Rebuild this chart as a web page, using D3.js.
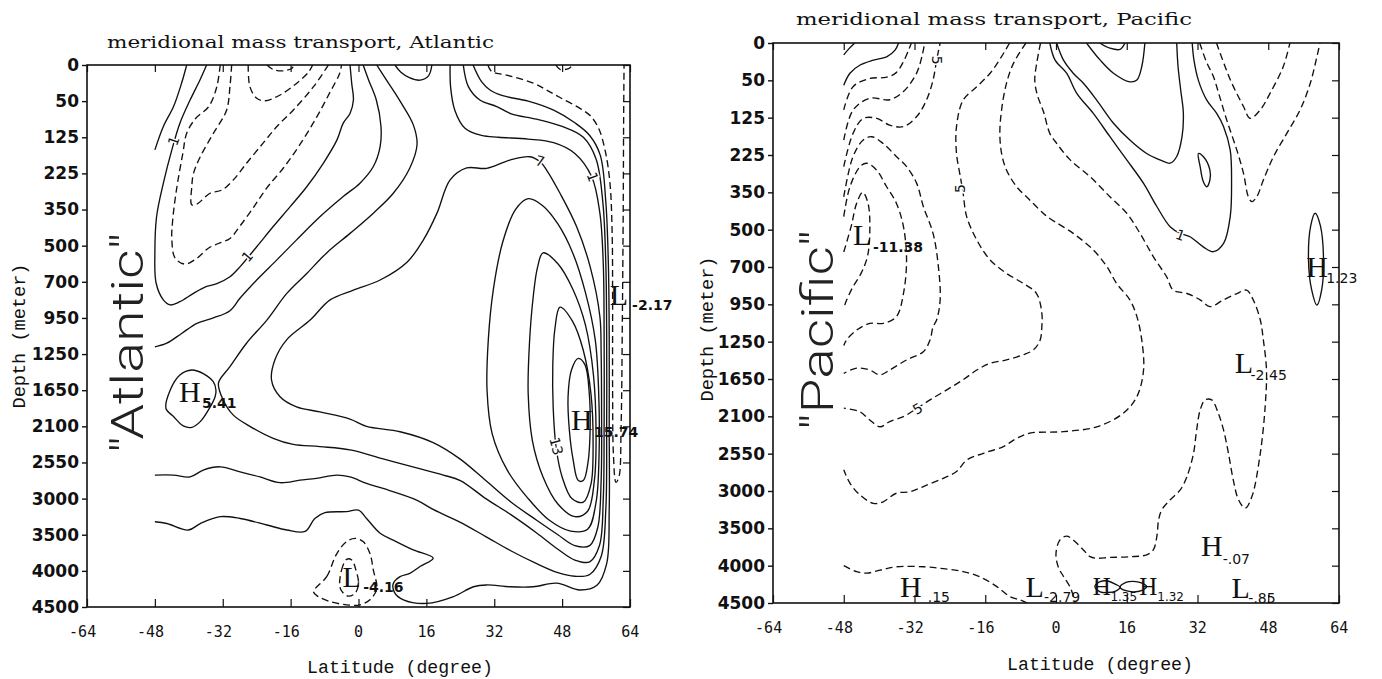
<!DOCTYPE html>
<html>
<head>
<meta charset="utf-8">
<script src="https://cdn.jsdelivr.net/npm/d3@7"></script>
<style>
  body { margin: 0; background: #fff; }
  svg { display: block; }
</style>
</head>
<body>
<svg id="chart" width="1382" height="679"></svg>
<script>
// ---------------- axis data ----------------
const depthLabels = ["0","50","125","225","350","500","700","950","1250","1650","2100","2550","3000","3500","4000","4500"];
const latTicks = [-64,-48,-32,-16,0,16,32,48,64];

// ---------------- Atlantic contours: [latitude, depth-level index] ----------------
const atl_a = [[-48,2.35],[-46,1.7],[-43.6,1.15],[-41.7,0.5],[-40.5,0]];
const atl_b = [[-35.8,0],[-37.4,0.42],[-39.7,0.97],[-42.1,1.61],[-44,2.35],[-46,3.27],[-47.6,4.2],[-48,5.2],[-47.7,6.04],[-46,6.5],[-44.4,6.64],[-42.1,6.55],[-38.9,6.32],[-35.8,6.13],[-33.4,6.05],[-30.3,5.86],[-27.9,5.58],[-24,5.03],[-20.1,4.47],[-16.1,3.92],[-12.2,3.37],[-8.3,2.72],[-5.1,2.08],[-3.6,1.61],[-2,1.34],[-1.2,0.97],[-1.6,0.51],[-2,0]];
const atl_D1 = [[-32.6,0],[-33.4,0.6],[-35.3,1.15],[-38.4,1.48],[-40.5,1.89],[-41.4,2.44],[-42.8,3.37],[-43.8,4.29],[-44,4.84],[-43.2,5.35],[-40.9,5.51],[-38.1,5.35],[-35.4,5.07],[-33,4.94],[-30.3,4.8],[-27.9,4.45],[-24.8,3.95],[-21.6,3.4],[-17.7,2.85],[-13.8,2.2],[-9.9,1.45],[-6.7,0.75],[-4.5,0.25],[-4,0]];
const atl_D2 = [[-29.9,0],[-30.3,0.6],[-31.1,1.25],[-34.2,1.89],[-37.3,2.54],[-38.9,3.0],[-39.3,3.37],[-39.3,3.87],[-38.1,3.85],[-35,3.55],[-32.2,3.46],[-29.5,3.18],[-26.4,2.72],[-22.4,2.15],[-19.3,1.71],[-15.4,1.25],[-10.6,0.6],[-7.1,0]];
const atl_D3 = [[-26,0],[-25.6,0.6],[-24,0.92],[-22,0.99],[-18.5,0.83],[-14.6,0.51],[-11.8,0.2],[-10.8,0]];
const atl_d  = [[-21.6,0],[-20,0.13],[-17.5,0.16],[-15.6,0.08],[-15.3,0]];
const atl_e = [[-48,7.8],[-45.2,7.7],[-41.7,7.43],[-38.1,7.15],[-34.2,7.0],[-30.3,6.8],[-27.9,6.45],[-24,5.95],[-19.3,5.4],[-14.6,4.84],[-9.1,4.2],[-3.6,3.64],[0.35,3.27],[3.5,2.81],[5.1,2.26],[5.3,1.7],[4.2,0.97],[2.4,0.42],[1.1,0]];
const atl_f = [[4.3,0],[6.6,0.42],[9.8,1.0],[12.9,1.65],[13.8,2.2],[12.1,2.85],[8.2,3.55],[3.5,4.1],[-2,4.66],[-7.5,5.2],[-12.2,5.77],[-16.9,6.32],[-21.6,7.06],[-26.4,7.7],[-30.3,8.35],[-33,8.8],[-31.9,9.27],[-29.5,9.69],[-25.6,10.0],[-20.1,10.33],[-15.4,10.5],[-9.1,10.56],[-2,10.65],[5.8,10.9],[13.7,11.15],[20,11.35],[24,11.5],[30,12.0],[36,12.45],[42,12.95],[47,13.4],[51,13.7],[54.5,13.75],[56.8,13.3],[57.7,12.0],[57.9,10],[57.9,7.5],[57.7,5.5],[56.9,4.1],[55,3.1],[51,2.45],[46,2.15],[40,2.05],[33,2.0],[29,1.95],[25.1,1.75],[22.7,1.25],[21.7,0.6],[21.6,0]];
const atl_3 = [[-48,11.35],[-43.6,11.35],[-39.7,11.4],[-36.6,11.21],[-32.6,11.12],[-27.9,11.26],[-23.2,11.4],[-18.5,11.56],[-13.8,11.49],[-9.9,11.44],[-5.1,11.35],[-2,11.4],[1.9,11.58],[5.8,11.72],[13.7,12.04],[17.6,12.3],[23.9,12.65],[30,13.05],[36,13.45],[42,13.8],[47,14.05],[51,14.15],[54.5,14.1],[57.2,13.6],[58.3,12.3],[58.5,10],[58.5,7.5],[58.3,5.5],[57.6,3.8],[56,2.6],[53,2.0],[48,1.7],[42,1.5],[36,1.35],[32.6,1.15],[28.6,0.97],[25.9,0.6],[24.7,0]];
const atl_1 = [[-48,12.64],[-45.2,12.69],[-40.1,12.87],[-37.3,12.69],[-32.6,12.5],[-27.9,12.55],[-21.6,12.73],[-16.9,12.87],[-12.6,12.91],[-10.3,12.55],[-7.9,12.39],[-2.8,12.36],[0,12.32],[1.9,12.55],[5.1,12.96],[8.2,13.15],[12.9,13.42],[17.6,13.65],[14.5,13.88],[12.1,14.07],[9.8,14.16],[8.2,14.35],[8.5,14.6],[10.6,14.8],[16.1,14.9],[22.4,14.71],[27.1,14.44],[30.2,14.39],[35.7,14.44],[41.2,14.44],[46.7,14.34],[52.2,14.53],[56.2,14.4],[58.5,13.8],[59.1,12.3],[59.1,10],[59.1,7.5],[58.9,5.5],[58.3,3.8],[57,2.5],[54.5,1.95],[51,1.6],[46,1.25],[40,1.0],[34,0.85],[31,0.69],[29,0.46],[27,0]];
const atl_j = [[30.5,0],[31.4,0.18],[34.9,0.28],[41.2,0.5],[44.3,0.69],[47.5,0.9],[52.2,1.2],[54.6,1.4],[56.6,1.75],[58.2,2.4],[59.3,3.3],[59.8,4.7],[59.9,6.5],[59.9,9],[60.1,10.8],[60.7,11.55],[61.4,11.4],[61.9,10],[62.2,7],[62.4,4],[62.5,1.5],[62.6,0]];
const atl_tiny = [[46.5,0],[47.5,0.12],[49.5,0.1],[50.5,0]];
const atl_U = [[8.6,0],[10,0.2],[12,0.35],[14.5,0.42],[16.5,0.3],[17.3,0]];
const atl_7 = [[42.8,2.68],[40.4,2.54],[35.7,2.63],[30.2,2.86],[25.5,2.85],[21.6,3.18],[18.5,4.1],[15.3,4.84],[11.5,5.45],[5.1,5.95],[-1.2,6.23],[-6.7,6.5],[-11.4,7.06],[-16.9,7.6],[-19.7,8.16],[-20.5,8.72],[-18.5,9.18],[-14.6,9.46],[-9.1,9.6],[-2,9.8],[1.9,10.0],[9.8,10.15],[17.6,10.45],[23.9,10.9],[30,11.5],[36,12.1],[42,12.6],[47,13.0],[51,13.3],[54.5,13.3],[56.4,12.8],[57.2,11.5],[57.3,9.5],[57.2,8],[56.9,6.96],[54.6,5.58],[51.4,4.47],[47.5,3.55],[44.3,2.9]];
const atl_9 = [[40,3.7],[43.5,3.9],[47,4.4],[50.5,5.2],[53.5,6.3],[55.8,7.6],[56.6,9],[56.7,10.8],[56,12.1],[54,12.85],[50,12.9],[45,12.6],[40,12.0],[35,11.2],[31.5,10.2],[30.3,9],[30.6,7.6],[31.8,6.2],[34,4.9],[37,4.0]];
const atl_11 = [[43.5,5.2],[47,5.5],[50.5,6.2],[53.5,7.2],[55.4,8.6],[56,10.2],[55.6,11.5],[54,12.35],[51,12.5],[47,12.15],[43.5,11.4],[41,10.4],[40,9.1],[40.3,7.7],[41.2,6.4],[42.2,5.6]];
const atl_13 = [[47.5,6.7],[50.5,7.1],[53,7.9],[54.8,9.1],[55.3,10.5],[54.8,11.6],[53,12.1],[50.3,12.0],[48,11.4],[46.6,10.6],[45.9,9.5],[45.8,8.3],[46.3,7.3]];
const atl_15 = [[51.8,8.12],[53.4,8.3],[54.4,9.09],[54.6,10.1],[54.1,11.0],[53,11.5],[51.8,11.5],[50.6,10.93],[49.7,10.1],[49.4,9.18],[50.2,8.44]];
const atl_H5 = [[-45.4,9.5],[-44.4,9.0],[-42.1,8.58],[-39.3,8.44],[-36.6,8.54],[-34.2,8.77],[-33.6,9.0],[-33.8,9.18],[-35.4,9.55],[-37.3,9.87],[-39.3,10.03],[-41.3,9.99],[-43.6,9.73]];
const atl_L1 = [[-10.6,14.58],[-7.5,14.16],[-5.1,13.52],[-2.8,13.19],[-0.8,13.1],[1.1,13.19],[2.7,13.52],[3.5,13.98],[4.3,14.5],[2.7,14.8],[0.35,14.94],[-2.8,14.94],[-6.7,14.85],[-9.5,14.71]];
const atl_L2 = [[-4.4,14.44],[-4,13.98],[-2.8,13.68],[-1.6,13.7],[-0.6,13.98],[0,14.35],[-0.8,14.62],[-2.4,14.7],[-3.7,14.6]];

// contour labels [text, lat, level index, angle]
const atlLabels = [["1",-43.6,2.1,-70],["1",-26.2,5.3,-50],["7",42.8,2.66,15],["1",55.2,3.1,70],["13",46.6,10.55,75]];
// extrema markers
const atlExtrema = [
  {t:"H", v:"5.41",  lat:-42.3, idx:9.33,  slat:-36.9, sidx:9.49},
  {t:"L", v:"-4.16", lat:-3.8,  idx:14.45, slat:1.1,   sidx:14.59},
  {t:"H", v:"15.74", lat:50.1,  idx:10.1,  slat:55.5,  sidx:10.3},
  {t:"L", v:"-2.17", lat:59.2,  idx:6.64,  slat:64.5,  sidx:6.78}
];

// ---------------- Pacific contours ----------------
const pac_s1 = [[-48,0.32],[-46.8,0.15],[-45.5,0]];
const pac_s2 = [[-48,1.13],[-46.6,0.81],[-44.3,0.59],[-41.3,0.46],[-38.3,0.37],[-36.4,0.19],[-35.6,0]];
const pac_d3 = [[-48,1.79],[-45.9,1.17],[-42.1,0.95],[-38.5,0.92],[-36.2,0.8],[-34.5,0.5],[-33.2,0.15],[-32.7,0]];
const pac_d4 = [[-48,2.6],[-45.9,1.8],[-42.1,1.48],[-37.6,1.52],[-34.5,1.3],[-31.5,0.8],[-30.2,0.3],[-29.7,0]];
const pac_d5 = [[-48,3.31],[-45.9,2.42],[-43.6,2.02],[-40.5,2.02],[-37.6,2.2],[-34.5,2.24],[-31.5,1.97],[-29.3,1.53],[-27.8,0.99],[-27,0.46],[-26.2,0]];
const pac_d6 = [[-48,4.12],[-45.9,3.04],[-43.6,2.6],[-41.7,2.51],[-39.1,2.69],[-36.1,3.04],[-33.8,3.31],[-31.5,3.76],[-30,4.38],[-27.8,5.1],[-26.6,5.99],[-26.2,6.88],[-27,7.42],[-27.8,7.6],[-28.5,7.96],[-30,8.27],[-33.8,8.49],[-37.6,8.76],[-39.8,8.89],[-42.1,8.76],[-45.1,8.71],[-48,8.85]];
const pac_d7 = [[-48,4.65],[-46.6,3.85],[-44.3,3.31],[-42.8,3.22],[-40.6,3.4],[-38.3,3.85],[-36.1,4.29],[-34.5,4.92],[-33.8,5.81],[-34.5,6.71],[-36.1,7.33],[-39.1,7.51],[-42.1,7.51],[-45.1,7.69],[-47.4,7.96],[-48,8.1]];
const pac_d8 = [[-48,5.6],[-46.3,4.9],[-45.1,4.3],[-43.7,4.0],[-42.5,4.3],[-42.1,5.0],[-42.6,5.7],[-44,6.15],[-46,6.55],[-47.4,6.9],[-48,7.1]];
const pac_C = [[-10.5,0],[-12.5,0.4],[-14.9,0.81],[-17.9,1.17],[-21,1.53],[-22.5,2.24],[-22.5,2.96],[-21.6,3.6],[-21,4.03],[-20.2,4.65],[-17.9,5.28],[-14.9,5.81],[-11.2,6.17],[-7.4,6.44],[-4.4,6.71],[-3.2,7.24],[-3.2,7.6],[-3.6,7.96],[-5.1,8.22],[-7.4,8.35],[-11.2,8.49],[-14.9,8.58],[-17.9,8.76],[-21,9.02],[-24.7,9.29],[-28.5,9.56],[-31.5,9.79],[-34.5,10.01],[-37.6,10.14],[-39.8,10.28],[-42.1,10.1],[-44.3,9.88],[-47.4,9.79],[-48,9.78]];
const pac_Dbig = [[-6.8,0],[-9.6,0.54],[-11.2,1.08],[-12.3,1.79],[-12.7,2.42],[-12.3,2.96],[-11.2,3.4],[-8.9,3.85],[-5.9,4.21],[-2.9,4.56],[-1.4,4.7],[3.9,5.1],[8.4,5.54],[11.5,5.99],[13.7,6.44],[16.7,6.88],[18.3,7.33],[19.4,7.96],[19.8,8.76],[18.3,9.47],[15.2,9.92],[9.2,10.28],[1.7,10.41],[-5.9,10.45],[-8.9,10.59],[-11.9,10.81],[-16.4,10.99],[-20.2,11.17],[-22.5,11.48],[-25.5,11.66],[-30,11.88],[-33,12.02],[-36.1,12.06],[-39.1,12.29],[-41.3,12.33],[-44.3,12.11],[-46.6,11.79],[-48,11.43]];
const pac_DN = [[-3.5,0],[-4.3,0.5],[-4.8,1.0],[-4.2,1.4],[-2.8,1.85],[-1.4,2.42],[0.15,2.69],[3.2,3.13],[7.7,3.58],[12.2,4.12],[16,4.56],[19,5.1],[22,5.72],[25,6.26],[26.5,6.62],[29.6,6.71],[32.6,6.88],[34.8,7.06],[37.9,6.88],[40.9,6.71],[43.1,6.62],[44.6,6.88],[46.2,7.42],[46.9,7.96],[47.6,8.76],[47.3,9.74],[46.2,10.99],[44.3,12.15],[42.8,12.46],[41.3,12.24],[40.1,11.71],[39,10.99],[37.9,10.37],[36.7,9.92],[35.2,9.56],[33.7,9.56],[32.6,9.83],[31.8,10.37],[31.1,10.99],[29.6,11.62],[28.1,11.97],[25.8,12.24],[23.9,12.51],[23.2,12.78],[22.8,13.22],[22,13.58],[20.5,13.71],[16.7,13.76],[12.2,13.78],[9.2,13.8],[7.7,13.76],[6.2,13.58],[3.9,13.31],[2.4,13.21],[0.9,13.31],[0,13.67],[0.5,14.03],[1.7,14.29],[3.3,14.6],[4.3,15]];
const pac_bottom = [[-48,14.0],[-45.1,14.16],[-42.8,14.2],[-39.8,14.12],[-36.1,14.03],[-30,14.03],[-25.5,14.08],[-21,14.16],[-17.2,14.3],[-13.4,14.56],[-10.4,14.83],[-8.1,14.92],[-6.5,15]];
const pac_outer = [[-1.4,0],[-0.2,0.46],[2.4,0.81],[4.7,1.35],[8.4,1.88],[12.2,2.51],[16,3.13],[19.8,3.76],[22.8,4.38],[25.8,4.92],[28.1,5.1],[30.3,5.19],[33.3,5.46],[35.6,5.59],[37.9,5.37],[39.4,4.65],[39.7,3.76],[39.4,2.87],[37.9,2.24],[36.3,1.88],[34.1,1.53],[32.2,1.0],[31.2,0.46],[30.8,0]];
const pac_inner = [[0.15,0],[1.7,0.46],[3.9,0.81],[6.2,1.08],[9.2,1.53],[13,2.15],[16.7,2.6],[20.5,2.96],[23.5,3.13],[25.8,3.22],[27.3,3.04],[28.5,2.51],[28.8,1.88],[28.2,1.26],[27.6,0.63],[27.3,0]];
const pac_U = [[6.9,0],[10,0.46],[13,0.81],[16.7,1.04],[18.3,0.99],[19.4,0.63],[20.1,0]];
const pac_smallU = [[9.9,0],[12.2,0.14],[14.5,0.17],[15.6,0]];
const pac_smallLoop = [[32.2,2.96],[33.3,3.04],[34.8,3.4],[34.8,3.67],[34.1,3.85],[33.3,3.71],[32.6,3.31]];
const pac_V = [[36.3,0],[39.4,0.98],[42.4,1.7],[43.9,2.02],[46.2,1.79],[48.4,1.35],[51.4,0.63],[52.9,0]];
const pac_W = [[32.5,0],[34,0.5],[35.6,0.9],[36.8,1.35],[38.6,2.06],[40.9,2.87],[42.4,3.49],[43.5,4.12],[44.3,4.25],[45.4,4.12],[46.9,3.67],[49.2,3.04],[52.2,2.42],[55.2,1.79],[57.5,1.08],[59,0.37],[59.7,0]];
const pac_H123 = [[58.6,4.56],[59.8,4.9],[60.5,5.81],[60.1,6.6],[59,7.02],[57.8,6.6],[57.1,5.81],[57.6,4.9]];
const pac_HH1 = [[8.8,14.56],[10,14.43],[11.7,14.41],[13.5,14.5],[14.5,14.58],[13.5,14.68],[11.7,14.72],[10,14.7]];
const pac_HH2 = [[14.5,14.58],[15.8,14.45],[17.5,14.42],[19.3,14.46],[20.5,14.56],[19.3,14.67],[17.5,14.7],[15.8,14.67]];

const pacLabels = [["5",-27,0.46,90],["5",-21.6,3.9,-90],["5",-31.3,9.8,-30],["1",28.1,5.15,20]];
const pacExtrema = [
  {t:"L", v:"-11.38", lat:-45.9, idx:5.41,  slat:-41.4, sidx:5.6, bold:true},
  {t:"H", v:"1.23",   lat:56.6,  idx:6.27,  slat:61.1,  sidx:6.43},
  {t:"L", v:"-2.45",  lat:40.4,  idx:8.84,  slat:44.0,  sidx:9.03},
  {t:"H", v:"-.07",   lat:32.8,  idx:13.75, slat:37.7,  sidx:13.95},
  {t:"L", v:"-.85",   lat:39.7,  idx:14.86, slat:43.5,  sidx:15.0},
  {t:"H", v:".15",    lat:-35.3, idx:14.84, slat:-29.0, sidx:14.97},
  {t:"L", v:"-2.79",  lat:-6.9,  idx:14.84, slat:-2.7,  sidx:14.97},
  {t:"H", v:"1.35",   lat:8.3,   idx:14.79, slat:12.3,  sidx:14.95, small:true},
  {t:"H", v:"1.32",   lat:18.8,  idx:14.79, slat:22.9,  sidx:14.95, small:true}
];

// ---------------- build panel descriptions ----------------
const atlContours = [
  ...[atl_a, atl_b, atl_e, atl_f, atl_3, atl_1, atl_U].map(p => ({pts:p, dashed:false, closed:false})),
  ...[atl_7, atl_9, atl_11, atl_13, atl_15, atl_H5].map(p => ({pts:p, dashed:false, closed:true})),
  ...[atl_D1, atl_D2, atl_D3, atl_d, atl_j, atl_tiny].map(p => ({pts:p, dashed:true, closed:false})),
  ...[atl_L1, atl_L2].map(p => ({pts:p, dashed:true, closed:true}))
];
const pacContours = [
  ...[pac_s1, pac_s2, pac_outer, pac_inner, pac_U, pac_smallU].map(p => ({pts:p, dashed:false, closed:false})),
  ...[pac_smallLoop, pac_H123, pac_HH1, pac_HH2].map(p => ({pts:p, dashed:false, closed:true})),
  ...[pac_d3, pac_d4, pac_d5, pac_d6, pac_d7, pac_d8, pac_C, pac_Dbig, pac_DN, pac_bottom, pac_V, pac_W].map(p => ({pts:p, dashed:true, closed:false}))
];

const panels = [
  {id:"atl", x0:87, x1:630, y0:65, y1:607, title:"meridional mass transport, Atlantic", tx:107, ty:48, tlen:387,
   basin:"\"Atlantic\"", bx:143, by:343, blen:220, dx:25, dy:336, lx:400, ly:673,
   contours:atlContours, labels:atlLabels, extrema:atlExtrema, subBold:true},
  {id:"pac", x0:773, x1:1339, y0:43, y1:603, title:"meridional mass transport, Pacific", tx:796, ty:25, tlen:396,
   basin:"\"Pacific\"", bx:833, by:330, blen:200, dx:713, dy:329, lx:1100, ly:670,
   contours:pacContours, labels:pacLabels, extrema:pacExtrema, subBold:false}
];

const svg = d3.select("#chart");
const defs = svg.append("defs");

panels.forEach(P => {
  const x = d3.scaleLinear().domain([-64, 64]).range([P.x0, P.x1]);
  const y = d3.scaleLinear().domain([0, 15]).range([P.y0, P.y1]);
  const g = svg.append("g");

  defs.append("clipPath").attr("id", "clip-" + P.id)
    .append("rect").attr("x", P.x0).attr("y", P.y0)
    .attr("width", P.x1 - P.x0).attr("height", P.y1 - P.y0);

  const openLine = d3.line().x(d => x(d[0])).y(d => y(d[1])).curve(d3.curveCatmullRom.alpha(0.5));
  const closedLine = d3.line().x(d => x(d[0])).y(d => y(d[1])).curve(d3.curveCatmullRomClosed.alpha(0.5));

  const cg = g.append("g").attr("clip-path", `url(#clip-${P.id})`);
  cg.selectAll("path.c").data(P.contours).join("path")
    .attr("class", "c")
    .attr("d", c => (c.closed ? closedLine : openLine)(c.pts))
    .attr("fill", "none")
    .attr("stroke", "#111")
    .attr("stroke-width", 1.35)
    .attr("stroke-dasharray", c => c.dashed ? "7,4" : null);

  // contour labels
  g.selectAll("text.cl").data(P.labels).join("text")
    .attr("class", "cl")
    .attr("transform", d => `translate(${x(d[1])},${y(d[2])}) rotate(${d[3]})`)
    .attr("text-anchor", "middle").attr("dy", "0.35em")
    .attr("font-family", "DejaVu Sans, sans-serif").attr("font-size", 14)
    .attr("fill", "#111")
    .attr("stroke", "#fff").attr("stroke-width", 3).attr("paint-order", "stroke")
    .text(d => d[0]);

  // extrema
  P.extrema.forEach(e => {
    g.append("text").attr("x", x(e.lat)).attr("y", y(e.idx))
      .attr("font-family", "Liberation Serif, serif").attr("font-size", e.small ? 25 : 30)
      .attr("fill", "#111").text(e.t);
    g.append("text").attr("x", x(e.slat)).attr("y", y(e.sidx))
      .attr("font-family", "DejaVu Sans, sans-serif").attr("font-size", e.small ? 12 : 14)
      .attr("font-weight", (P.subBold || e.bold) ? "bold" : "normal")
      .attr("fill", "#111").text(e.v);
  });

  // frame
  g.append("rect").attr("x", P.x0).attr("y", P.y0)
    .attr("width", P.x1 - P.x0).attr("height", P.y1 - P.y0)
    .attr("fill", "none").attr("stroke", "#111").attr("stroke-width", 1.6);

  // y axis (left, labelled)
  const yAx = g.append("g").attr("transform", `translate(${P.x0},0)`)
    .call(d3.axisLeft(y).tickValues(d3.range(16)).tickFormat(i => depthLabels[i]).tickSize(5).tickPadding(3));
  yAx.select(".domain").remove();
  yAx.selectAll("line").attr("stroke", "#111").attr("stroke-width", 1.4);
  yAx.selectAll("text").attr("font-family", "DejaVu Sans, sans-serif").attr("font-weight", "bold")
    .attr("font-size", 17).attr("fill", "#111");
  yAx.attr("font-size", null).attr("font-family", null);

  // y axis (right, inner ticks)
  const yAxR = g.append("g").attr("transform", `translate(${P.x1},0)`)
    .call(d3.axisRight(y).tickValues(d3.range(16)).tickSize(-7).tickFormat(""));
  yAxR.select(".domain").remove();
  yAxR.selectAll("line").attr("stroke", "#111").attr("stroke-width", 1.2);

  // x axis bottom (inner ticks) + labels
  const xAx = g.append("g").attr("transform", `translate(0,${P.y1})`)
    .call(d3.axisBottom(x).tickValues(latTicks).tickSize(-8).tickFormat(""));
  xAx.select(".domain").remove();
  xAx.selectAll("line").attr("stroke", "#111").attr("stroke-width", 1.2);
  g.selectAll("text.xl").data(latTicks).join("text")
    .attr("class", "xl")
    .attr("x", t => x(t) + String(Math.abs(t)).length * 4.6)
    .attr("y", P.y1 + 30)
    .attr("text-anchor", "end")
    .attr("font-family", "DejaVu Sans Mono, monospace").attr("font-size", 15)
    .attr("fill", "#111")
    .text(t => String(t));

  // x axis top (inner ticks)
  const xAxT = g.append("g").attr("transform", `translate(0,${P.y0})`)
    .call(d3.axisTop(x).tickValues(latTicks).tickSize(-7).tickFormat(""));
  xAxT.select(".domain").remove();
  xAxT.selectAll("line").attr("stroke", "#111").attr("stroke-width", 1.2);

  // title
  g.append("text").attr("x", P.tx).attr("y", P.ty)
    .attr("font-family", "DejaVu Serif, serif").attr("font-size", 16)
    .attr("textLength", P.tlen).attr("lengthAdjust", "spacingAndGlyphs")
    .attr("fill", "#111").text(P.title);

  // axis titles
  g.append("text").attr("x", P.lx).attr("y", P.ly).attr("text-anchor", "middle")
    .attr("font-family", "Liberation Mono, monospace").attr("font-size", 18)
    .attr("textLength", 186).attr("lengthAdjust", "spacingAndGlyphs")
    .attr("fill", "#111").text("Latitude (degree)");
  g.append("text").attr("transform", `translate(${P.dx},${P.dy}) rotate(-90)`)
    .attr("text-anchor", "middle")
    .attr("font-family", "Liberation Mono, monospace").attr("font-size", 18)
    .attr("textLength", 145).attr("lengthAdjust", "spacingAndGlyphs")
    .attr("fill", "#111").text("Depth (meter)");

  // basin name
  g.append("text").attr("transform", `translate(${P.bx},${P.by}) rotate(-90)`)
    .attr("text-anchor", "middle")
    .attr("font-family", "Roboto, sans-serif").attr("font-weight", 300).attr("font-size", 44)
    .attr("textLength", P.blen).attr("lengthAdjust", "spacingAndGlyphs")
    .attr("fill", "#222").text(P.basin);
});
</script>
</body>
</html>
